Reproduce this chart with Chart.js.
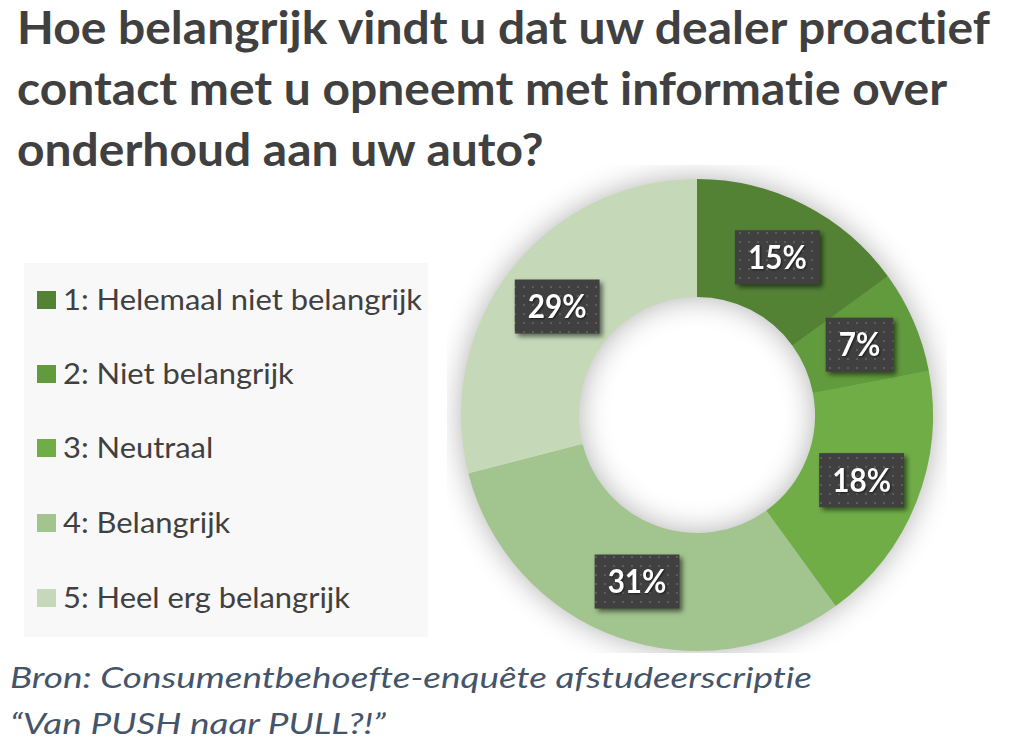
<!DOCTYPE html>
<html><head><meta charset="utf-8">
<script src="https://cdn.jsdelivr.net/npm/chart.js@4.4.0/dist/chart.umd.min.js"></script>
<style>
html,body{margin:0;padding:0;background:#fff;width:1024px;height:755px;overflow:hidden;position:relative;}
.t{position:absolute;white-space:nowrap;transform-origin:0 0;line-height:1;margin:0;font-variant-ligatures:none;font-feature-settings:"liga" 0;}
.title{font-family:Lato,sans-serif;font-weight:bold;color:#404040;font-size:45px;left:17px;}
.src{font-family:Lato,sans-serif;font-style:italic;color:#44546a;font-size:29px;left:10px;}
#legendBox{position:absolute;left:24px;top:263px;width:404px;height:374px;background:#f8f8f8;}
.sw{position:absolute;width:19px;height:18px;left:37px;}
.lt{font-family:Lato,sans-serif;color:#404040;font-size:28px;left:63px;}
#chartWrap{position:absolute;left:447px;top:165px;width:500px;height:488px;}
</style>
</head><body>
<div id="titleHost"></div>
<div id="legendBox"></div>
<div id="legendHost"></div>
<div id="chartWrap"><canvas id="c"></canvas></div>
<div id="srcHost"></div>
<script>
const titleLines = ['Hoe belangrijk vindt u dat uw dealer proactief','contact met u opneemt met informatie over','onderhoud aan uw auto?'];
const categories = ['1: Helemaal niet belangrijk','2: Niet belangrijk','3: Neutraal','4: Belangrijk','5: Heel erg belangrijk'];
const values = [15, 7, 18, 31, 29];
const sliceColors = ['#548235','#619b3d','#70ad47','#a2c58f','#c5d9b8'];
const sourceLines = ['Bron: Consumentbehoefte-enquête afstudeerscriptie','\u201CVan PUSH naar PULL?!\u201D'];

function addText(host, cls, text, baseline, size){
  const d=document.createElement('div');
  d.className='t '+cls; d.textContent=text;
  d.style.top=(baseline-0.887*size)+'px';
  document.getElementById(host).appendChild(d);
  return d;
}
// title
const tEls = titleLines.map((s,i)=>addText('titleHost','title',s,45+i*61,45));
const ts = 973 / tEls[0].getBoundingClientRect().width;
tEls.forEach(e=>e.style.transform='scaleX('+ts+')');
// legend
const legCenters=[300,374,448,523,598];
const lEls = categories.map((s,i)=>{
  const sw=document.createElement('div'); sw.className='sw';
  sw.style.background=sliceColors[i]; sw.style.top=(legCenters[i]-9)+'px';
  document.getElementById('legendHost').appendChild(sw);
  return addText('legendHost','lt',s,legCenters[i]+10,28);
});
const ls = 359 / lEls[0].getBoundingClientRect().width;
lEls.forEach(e=>e.style.transform='scaleX('+ls+')');
// source
const sEls = sourceLines.map((s,i)=>addText('srcHost','src',s,688+i*46,29));
const ss = 802 / sEls[0].getBoundingClientRect().width;
sEls.forEach(e=>e.style.transform='scaleX('+ss+')');

// dotted pattern for label boxes
function makePattern(ctx){
  const p=document.createElement('canvas'); p.width=9; p.height=9;
  const pc=p.getContext('2d');
  pc.fillStyle='#404040'; pc.fillRect(0,0,9,9);
  pc.fillStyle='#5c5c5c'; pc.fillRect(4,4,2,2);
  return ctx.createPattern(p,'repeat');
}

const ringShadow={
  id:'ringShadow',
  beforeDatasetsDraw(chart){
    const a=chart.getDatasetMeta(0).data[0]; if(!a) return;
    const ctx=chart.ctx; ctx.save();
    ctx.shadowColor='rgba(0,0,0,0.33)'; ctx.shadowBlur=30;
    ctx.beginPath();
    ctx.arc(a.x,a.y,a.outerRadius-1,0,Math.PI*2);
    ctx.arc(a.x,a.y,a.innerRadius+1,0,Math.PI*2,true);
    ctx.fillStyle=sliceColors[2]; ctx.fill();
    ctx.restore();
  }
};
const boxLabels={
  id:'boxLabels',
  afterDatasetsDraw(chart){
    const ctx=chart.ctx; const pat=makePattern(ctx);
    const meta=chart.getDatasetMeta(0);
    meta.data.forEach((arc,i)=>{
      const p=arc.tooltipPosition();
      const txt=values[i]+'%';
      ctx.save();
      ctx.font='bold 33px Lato';
      const sx=0.9;
      const tw=ctx.measureText(txt).width*sx;
      const w=tw+26, h=54;
      ctx.shadowColor='rgba(0,0,0,0.55)'; ctx.shadowBlur=5; ctx.shadowOffsetX=3; ctx.shadowOffsetY=3;
      ctx.fillStyle=pat; ctx.fillRect(p.x-w/2,p.y-h/2,w,h);
      ctx.shadowColor='rgba(0,0,0,0.6)'; ctx.shadowBlur=2; ctx.shadowOffsetX=1; ctx.shadowOffsetY=1;
      ctx.fillStyle='#ffffff'; ctx.textAlign='center'; ctx.textBaseline='middle';
      ctx.translate(p.x,p.y+1); ctx.scale(sx,1);
      ctx.fillText(txt,0,0);
      ctx.restore();
    });
  }
};

new Chart(document.getElementById('c'),{
  type:'doughnut',
  data:{labels:categories,datasets:[{data:values,backgroundColor:sliceColors,borderWidth:0,hoverOffset:0}]},
  options:{
    responsive:true,maintainAspectRatio:false,animation:false,
    cutout:'50%',
    layout:{padding:{top:14,bottom:2,left:14,right:14}},
    plugins:{legend:{display:false},tooltip:{enabled:false},title:{display:false}},
    events:[]
  },
  plugins:[ringShadow,boxLabels]
});
</script>
</body></html>
